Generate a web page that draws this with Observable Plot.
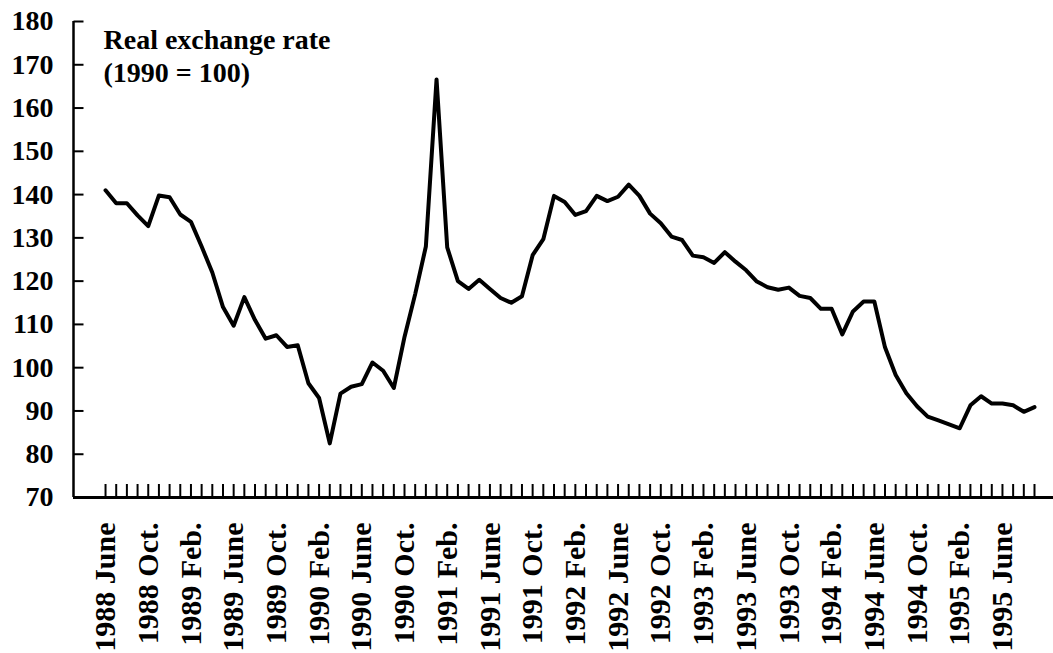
<!DOCTYPE html>
<html>
<head>
<meta charset="utf-8">
<script src="https://cdn.jsdelivr.net/npm/d3@7"></script>
<script src="https://cdn.jsdelivr.net/npm/@observablehq/plot@0.6"></script>
<style>
  html, body { margin: 0; padding: 0; background: #fff; }
  #chart { width: 1053px; height: 653px; overflow: hidden; }
</style>
</head>
<body>
<div id="chart"></div>
<script>
// Monthly real exchange rate index (1990 = 100), June 1988 – Sept. 1995
const values = [
  141, 138, 138, 135.2, 132.7, 139.8, 139.4, 135.4, 133.7, 128,
  122, 114, 109.7, 116.3, 111, 106.7, 107.5, 104.8, 105.2, 96.4,
  93, 82.5, 94, 95.6, 96.2, 101.2, 99.3, 95.3, 107.1, 117,
  128, 166.6, 127.8, 120, 118.2, 120.3, 118.2, 116.1, 115, 116.5,
  126, 129.7, 139.7, 138.3, 135.3, 136.2, 139.7, 138.5, 139.5, 142.3,
  139.7, 135.6, 133.4, 130.3, 129.5, 125.9, 125.5, 124.2, 126.7, 124.5,
  122.5, 119.9, 118.6, 118.0, 118.5, 116.6, 116.1, 113.6, 113.6, 107.7,
  113, 115.3, 115.3, 104.7, 98.3, 94.1, 91.1, 88.7, 87.8, 86.9,
  86.0, 91.3, 93.4, 91.7, 91.7, 91.3, 89.8, 90.9
];

// x tick labels every four months (month index 0, 4, 8, ...)
const tickLabels = [
  "1988 June", "1988 Oct.", "1989 Feb.", "1989 June", "1989 Oct.",
  "1990 Feb.", "1990 June", "1990 Oct.", "1991 Feb.", "1991 June",
  "1991 Oct.", "1992 Feb.", "1992 June", "1992 Oct.", "1993 Feb.",
  "1993 June", "1993 Oct.", "1994 Feb.", "1994 June", "1994 Oct.",
  "1995 Feb.", "1995 June"
];
const labelStep = 4;
const yTicks = [70, 80, 90, 100, 110, 120, 130, 140, 150, 160, 170, 180];
const titleLines = ["Real exchange rate", "(1990 = 100)"];

const data = values.map((v, i) => ({i, v}));
const monthTicks = d3.range(values.length);
const labelTicks = tickLabels.map((_, k) => k * labelStep);

const W = 1053, H = 653, ML = 73, MR = 0, MT = 21, MB = 156;
const xDomain = [-3, 88.78];
const yTickLen = 10; // pixels
// convert the pixel tick length into x units of the (linear) x scale
const xUnitsPerPx = (xDomain[1] - xDomain[0]) / (W - ML - MR);
const yTickRows = yTicks.filter(d => d > 70).map(d => ({y: d, x1: xDomain[0], x2: xDomain[0] + yTickLen * xUnitsPerPx}));

const chart = Plot.plot({
  width: W,
  height: H,
  marginLeft: ML,
  marginRight: MR,
  marginTop: MT,
  marginBottom: MB,
  x: {type: "linear", domain: xDomain},
  y: {domain: [70, 180]},
  style: {fontFamily: "'Liberation Serif', 'Times New Roman', serif", fontWeight: "bold", color: "#000", background: "#fff"},
  marks: [
    // x axis: monthly inward ticks, labels every four months
    Plot.axisX({ticks: monthTicks, tickSize: -13, tickFormat: () => "", strokeWidth: 2, label: null}),
    Plot.axisX({ticks: labelTicks, tickSize: 0, tickPadding: 25, tickRotate: -90, fontSize: 30, label: null,
                tickFormat: i => tickLabels[i / labelStep]}),
    // y axis labels
    Plot.axisY({ticks: yTicks, tickSize: 0, tickPadding: 20, fontSize: 28, label: null, tickFormat: d => d}),
    // axis lines
    Plot.ruleY([70], {strokeWidth: 3}),
    Plot.ruleX([xDomain[0]], {strokeWidth: 2.5}),
    // y axis: short inward ticks
    Plot.link(yTickRows, {x1: "x1", x2: "x2", y1: "y", y2: "y", stroke: "#000", strokeWidth: 2}),
    // series
    Plot.line(data, {x: "i", y: "v", stroke: "#000", strokeWidth: 4, strokeLinejoin: "round"}),
    // in-plot title
    Plot.text([titleLines.join("\n")], {
      frameAnchor: "top-left", textAnchor: "start", lineAnchor: "top",
      dx: 30, dy: 3, fontSize: 28, lineHeight: 1.21, fill: "#000"
    })
  ]
});
document.getElementById("chart").appendChild(chart);
</script>
</body>
</html>
